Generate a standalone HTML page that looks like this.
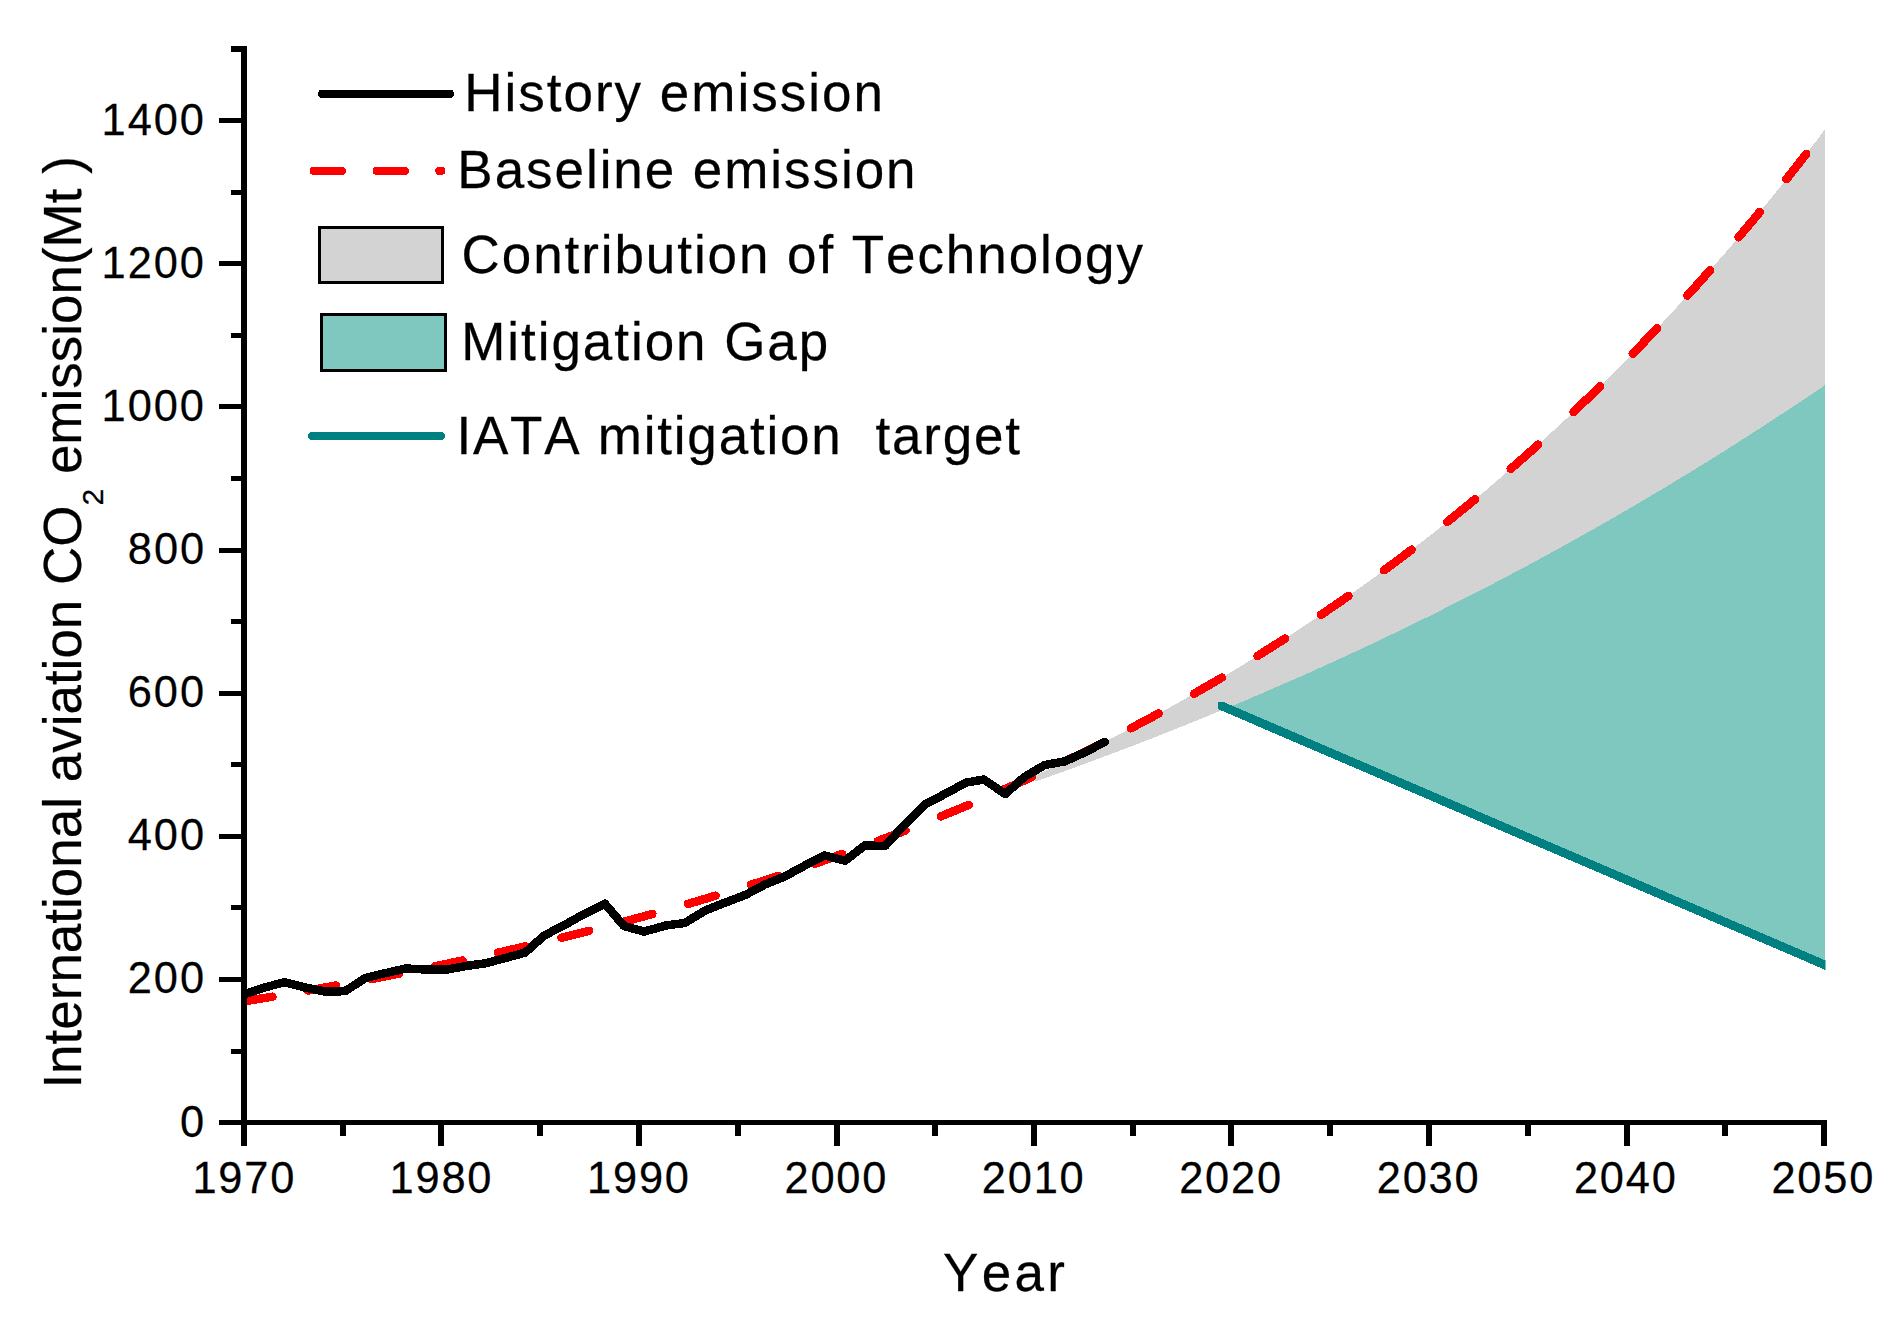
<!DOCTYPE html><html><head><meta charset="utf-8"><title>International aviation CO2 emission</title>
<style>html,body{margin:0;padding:0;background:#fff}svg{display:block}text{font-family:"Liberation Sans",Arial,sans-serif;fill:#000;stroke:#000;stroke-width:0.25px;font-kerning:none;font-variant-ligatures:none}</style></head><body>
<svg width="1895" height="1322" viewBox="0 0 1895 1322" shape-rendering="crispEdges">
<rect width="1895" height="1322" fill="#fff"/>
<defs><clipPath id="plot"><rect x="244" y="40" width="1584" height="1082"/></clipPath><clipPath id="iclip"><rect x="1218" y="702" width="607.5" height="400"/></clipPath></defs>
<g clip-path="url(#plot)">
<polygon fill="#d3d3d3" points="1034.5,775.8 1038.4,773.9 1042.4,772.1 1046.3,770.2 1050.3,768.4 1054.2,766.5 1058.2,764.6 1062.1,762.8 1066.1,760.9 1070.1,758.9 1074.0,757.0 1078.0,755.1 1081.9,753.2 1085.9,751.2 1089.8,749.3 1093.8,747.3 1097.7,745.3 1101.7,743.3 1105.6,741.3 1109.6,739.3 1113.5,737.3 1117.5,735.3 1121.4,733.2 1125.4,731.2 1129.3,729.1 1133.3,727.0 1137.2,724.9 1141.2,722.8 1145.1,720.7 1149.1,718.6 1153.1,716.5 1157.0,714.3 1161.0,712.2 1164.9,710.0 1168.9,707.9 1172.8,705.7 1176.8,703.5 1180.7,701.3 1184.7,699.0 1188.6,696.8 1192.6,694.6 1196.5,692.3 1200.5,690.0 1204.4,687.7 1208.4,685.5 1212.3,683.2 1216.3,680.8 1220.2,678.5 1224.2,676.2 1228.1,673.8 1232.1,671.4 1236.1,669.1 1240.0,666.7 1244.0,664.3 1247.9,661.8 1251.9,659.4 1255.8,657.0 1259.8,654.5 1263.7,652.1 1267.7,649.6 1271.6,647.1 1275.6,644.6 1279.5,642.0 1283.5,639.5 1287.4,637.0 1291.4,634.4 1295.3,631.8 1299.3,629.2 1303.2,626.6 1307.2,624.0 1311.1,621.4 1315.1,618.8 1319.1,616.1 1323.0,613.4 1327.0,610.7 1330.9,608.0 1334.9,605.3 1338.8,602.6 1342.8,599.9 1346.7,597.1 1350.7,594.3 1354.6,591.5 1358.6,588.7 1362.5,585.9 1366.5,583.1 1370.4,580.2 1374.4,577.4 1378.3,574.5 1382.3,571.6 1386.2,568.7 1390.2,565.8 1394.1,562.9 1398.1,559.9 1402.1,556.9 1406.0,554.0 1410.0,551.0 1413.9,547.9 1417.9,544.9 1421.8,541.9 1425.8,538.8 1429.7,535.7 1433.7,532.6 1437.6,529.5 1441.6,526.4 1445.5,523.2 1449.5,520.1 1453.4,516.9 1457.4,513.7 1461.3,510.5 1465.3,507.3 1469.2,504.0 1473.2,500.8 1477.1,497.5 1481.1,494.2 1485.1,490.9 1489.0,487.5 1493.0,484.2 1496.9,480.8 1500.9,477.4 1504.8,474.0 1508.8,470.6 1512.7,467.2 1516.7,463.7 1520.6,460.2 1524.6,456.7 1528.5,453.2 1532.5,449.7 1536.4,446.2 1540.4,442.6 1544.3,439.0 1548.3,435.4 1552.2,431.8 1556.2,428.1 1560.1,424.5 1564.1,420.8 1568.1,417.1 1572.0,413.4 1576.0,409.6 1579.9,405.9 1583.9,402.1 1587.8,398.3 1591.8,394.5 1595.7,390.6 1599.7,386.8 1603.6,382.9 1607.6,379.0 1611.5,375.0 1615.5,371.1 1619.4,367.1 1623.4,363.2 1627.3,359.2 1631.3,355.1 1635.2,351.1 1639.2,347.0 1643.1,342.9 1647.1,338.8 1651.1,334.7 1655.0,330.5 1659.0,326.3 1662.9,322.1 1666.9,317.9 1670.8,313.7 1674.8,309.4 1678.7,305.1 1682.7,300.8 1686.6,296.5 1690.6,292.1 1694.5,287.7 1698.5,283.3 1702.4,278.9 1706.4,274.4 1710.3,270.0 1714.3,265.5 1718.2,260.9 1722.2,256.4 1726.2,251.8 1730.1,247.2 1734.1,242.6 1738.0,238.0 1742.0,233.3 1745.9,228.6 1749.9,223.9 1753.8,219.2 1757.8,214.4 1761.7,209.6 1765.7,204.8 1769.6,200.0 1773.6,195.1 1777.5,190.2 1781.5,185.3 1785.4,180.3 1789.4,175.4 1793.3,170.4 1797.3,165.3 1801.2,160.3 1805.2,155.2 1809.2,150.1 1813.1,145.0 1817.1,139.8 1821.0,134.6 1825.0,129.4 1825.0,965.0 1226.8,708.2 1226.8,708.2 1225.9,708.6 1224.9,709.0 1223.9,709.4 1223.0,709.8 1222.0,710.2 1221.1,710.6 1220.1,711.0 1219.1,711.4 1218.2,711.8 1217.2,712.2 1216.2,712.6 1215.3,713.0 1214.3,713.3 1213.4,713.7 1212.4,714.1 1211.4,714.5 1210.5,714.9 1209.5,715.3 1208.5,715.7 1207.6,716.1 1206.6,716.5 1205.7,716.9 1204.7,717.3 1203.7,717.7 1202.8,718.1 1201.8,718.5 1200.9,718.9 1199.9,719.2 1198.9,719.6 1198.0,720.0 1197.0,720.4 1196.0,720.8 1195.1,721.2 1194.1,721.6 1193.2,722.0 1192.2,722.4 1191.2,722.8 1190.3,723.1 1189.3,723.5 1188.4,723.9 1187.4,724.3 1186.4,724.7 1185.5,725.1 1184.5,725.5 1183.5,725.8 1182.6,726.2 1181.6,726.6 1180.7,727.0 1179.7,727.4 1178.7,727.8 1177.8,728.2 1176.8,728.5 1175.9,728.9 1174.9,729.3 1173.9,729.7 1173.0,730.1 1172.0,730.5 1171.0,730.8 1170.1,731.2 1169.1,731.6 1168.2,732.0 1167.2,732.4 1166.2,732.7 1165.3,733.1 1164.3,733.5 1163.3,733.9 1162.4,734.3 1161.4,734.6 1160.5,735.0 1159.5,735.4 1158.5,735.8 1157.6,736.1 1156.6,736.5 1155.7,736.9 1154.7,737.3 1153.7,737.6 1152.8,738.0 1151.8,738.4 1150.8,738.8 1149.9,739.1 1148.9,739.5 1148.0,739.9 1147.0,740.3 1146.0,740.6 1145.1,741.0 1144.1,741.4 1143.2,741.8 1142.2,742.1 1141.2,742.5 1140.3,742.9 1139.3,743.2 1138.3,743.6 1137.4,744.0 1136.4,744.4 1135.5,744.7 1134.5,745.1 1133.5,745.5 1132.6,745.8 1131.6,746.2 1130.7,746.6 1129.7,746.9 1128.7,747.3 1127.8,747.7 1126.8,748.0 1125.8,748.4 1124.9,748.8 1123.9,749.1 1123.0,749.5 1122.0,749.9 1121.0,750.2 1120.1,750.6 1119.1,751.0 1118.1,751.3 1117.2,751.7 1116.2,752.0 1115.3,752.4 1114.3,752.8 1113.3,753.1 1112.4,753.5 1111.4,753.9 1110.5,754.2 1109.5,754.6 1108.5,754.9 1107.6,755.3 1106.6,755.7 1105.6,756.0 1104.7,756.4 1103.7,756.7 1102.8,757.1 1101.8,757.5 1100.8,757.8 1099.9,758.2 1098.9,758.5 1098.0,758.9 1097.0,759.3 1096.0,759.6 1095.1,760.0 1094.1,760.3 1093.1,760.7 1092.2,761.0 1091.2,761.4 1090.3,761.7 1089.3,762.1 1088.3,762.5 1087.4,762.8 1086.4,763.2 1085.5,763.5 1084.5,763.9 1083.5,764.2 1082.6,764.6 1081.6,764.9 1080.6,765.3 1079.7,765.6 1078.7,766.0 1077.8,766.3 1076.8,766.7 1075.8,767.0 1074.9,767.4 1073.9,767.7 1072.9,768.1 1072.0,768.4 1071.0,768.8 1070.1,769.1 1069.1,769.5 1068.1,769.8 1067.2,770.2 1066.2,770.5 1065.3,770.9 1064.3,771.2 1063.3,771.6 1062.4,771.9 1061.4,772.3 1060.4,772.6 1059.5,773.0 1058.5,773.3 1057.6,773.6 1056.6,774.0 1055.6,774.3 1054.7,774.7 1053.7,775.0 1052.8,775.4 1051.8,775.7 1050.8,776.0 1049.9,776.4 1048.9,776.7 1047.9,777.1 1047.0,777.4 1046.0,777.8 1045.1,778.1 1044.1,778.4 1043.1,778.8 1042.2,779.1 1041.2,779.5 1040.3,779.8 1039.3,780.1 1038.3,780.5 1037.4,780.8 1036.4,781.2 1035.4,781.5 1034.5,781.8"/>
<polygon fill="#7ec8c0" points="1226.8,708.2 1229.8,706.9 1232.8,705.7 1235.8,704.4 1238.8,703.2 1241.8,701.9 1244.8,700.6 1247.8,699.4 1250.7,698.1 1253.7,696.8 1256.7,695.6 1259.7,694.3 1262.7,693.0 1265.7,691.7 1268.7,690.4 1271.7,689.1 1274.7,687.8 1277.7,686.5 1280.7,685.2 1283.6,683.9 1286.6,682.6 1289.6,681.3 1292.6,680.0 1295.6,678.7 1298.6,677.4 1301.6,676.0 1304.6,674.7 1307.6,673.4 1310.6,672.0 1313.6,670.7 1316.5,669.3 1319.5,668.0 1322.5,666.6 1325.5,665.3 1328.5,663.9 1331.5,662.6 1334.5,661.2 1337.5,659.8 1340.5,658.5 1343.5,657.1 1346.4,655.7 1349.4,654.3 1352.4,653.0 1355.4,651.6 1358.4,650.2 1361.4,648.8 1364.4,647.4 1367.4,646.0 1370.4,644.6 1373.4,643.2 1376.4,641.7 1379.3,640.3 1382.3,638.9 1385.3,637.5 1388.3,636.1 1391.3,634.6 1394.3,633.2 1397.3,631.8 1400.3,630.3 1403.3,628.9 1406.3,627.4 1409.3,626.0 1412.2,624.5 1415.2,623.1 1418.2,621.6 1421.2,620.1 1424.2,618.6 1427.2,617.2 1430.2,615.7 1433.2,614.2 1436.2,612.7 1439.2,611.2 1442.2,609.7 1445.1,608.2 1448.1,606.7 1451.1,605.2 1454.1,603.7 1457.1,602.2 1460.1,600.7 1463.1,599.2 1466.1,597.7 1469.1,596.1 1472.1,594.6 1475.0,593.1 1478.0,591.5 1481.0,590.0 1484.0,588.4 1487.0,586.9 1490.0,585.3 1493.0,583.8 1496.0,582.2 1499.0,580.6 1502.0,579.1 1505.0,577.5 1507.9,575.9 1510.9,574.3 1513.9,572.8 1516.9,571.2 1519.9,569.6 1522.9,568.0 1525.9,566.4 1528.9,564.8 1531.9,563.2 1534.9,561.6 1537.9,559.9 1540.8,558.3 1543.8,556.7 1546.8,555.1 1549.8,553.4 1552.8,551.8 1555.8,550.2 1558.8,548.5 1561.8,546.9 1564.8,545.2 1567.8,543.6 1570.8,541.9 1573.7,540.2 1576.7,538.6 1579.7,536.9 1582.7,535.2 1585.7,533.5 1588.7,531.8 1591.7,530.2 1594.7,528.5 1597.7,526.8 1600.7,525.1 1603.6,523.4 1606.6,521.6 1609.6,519.9 1612.6,518.2 1615.6,516.5 1618.6,514.8 1621.6,513.0 1624.6,511.3 1627.6,509.6 1630.6,507.8 1633.6,506.1 1636.5,504.3 1639.5,502.6 1642.5,500.8 1645.5,499.0 1648.5,497.3 1651.5,495.5 1654.5,493.7 1657.5,491.9 1660.5,490.2 1663.5,488.4 1666.5,486.6 1669.4,484.8 1672.4,483.0 1675.4,481.2 1678.4,479.3 1681.4,477.5 1684.4,475.7 1687.4,473.9 1690.4,472.1 1693.4,470.2 1696.4,468.4 1699.4,466.5 1702.3,464.7 1705.3,462.9 1708.3,461.0 1711.3,459.1 1714.3,457.3 1717.3,455.4 1720.3,453.5 1723.3,451.7 1726.3,449.8 1729.3,447.9 1732.2,446.0 1735.2,444.1 1738.2,442.2 1741.2,440.3 1744.2,438.4 1747.2,436.5 1750.2,434.6 1753.2,432.6 1756.2,430.7 1759.2,428.8 1762.2,426.8 1765.1,424.9 1768.1,423.0 1771.1,421.0 1774.1,419.1 1777.1,417.1 1780.1,415.1 1783.1,413.2 1786.1,411.2 1789.1,409.2 1792.1,407.2 1795.1,405.3 1798.0,403.3 1801.0,401.3 1804.0,399.3 1807.0,397.3 1810.0,395.3 1813.0,393.2 1816.0,391.2 1819.0,389.2 1822.0,387.2 1825.0,385.1 1825.0,965.0"/>
<path d="M244.8 1001.2 L246.4 1001.0 L248.0 1000.7 L249.5 1000.5 L251.1 1000.2 L252.7 999.9 L254.3 999.7 L255.9 999.4 L257.4 999.2 L259.0 998.9 L260.6 998.6 L262.2 998.4 L263.8 998.1 L265.3 997.9 L266.9 997.6 L268.5 997.3 L270.1 997.1 L271.7 996.8 L272.5 996.7 M308.2 990.5 L309.8 990.3 L311.4 990.0 L313.0 989.7 L314.6 989.4 L316.1 989.2 L317.7 988.9 L319.3 988.6 L320.9 988.3 L322.5 988.0 L324.0 987.7 L325.6 987.5 L327.2 987.2 L328.8 986.9 L330.4 986.6 L331.9 986.3 L333.5 986.0 L335.1 985.7 L335.9 985.6 M371.5 979.0 L373.0 978.7 L374.6 978.4 L376.2 978.1 L377.8 977.8 L379.4 977.5 L381.0 977.2 L382.5 976.8 L384.1 976.5 L385.7 976.2 L387.3 975.9 L388.9 975.6 L390.4 975.3 L392.0 975.0 L393.6 974.7 L395.2 974.4 L396.8 974.1 L398.3 973.7 L399.1 973.6 M434.7 966.4 L436.3 966.1 L437.9 965.7 L439.4 965.4 L441.0 965.1 L442.6 964.7 L444.2 964.4 L445.8 964.1 L447.4 963.7 L448.9 963.4 L450.5 963.1 L452.1 962.7 L453.7 962.4 L455.3 962.1 L456.8 961.7 L458.4 961.4 L460.0 961.0 L461.6 960.7 L462.4 960.5 M497.9 952.7 L499.5 952.3 L501.1 952.0 L502.7 951.6 L504.3 951.2 L505.8 950.9 L507.4 950.5 L509.0 950.2 L510.6 949.8 L512.2 949.4 L513.8 949.1 L515.3 948.7 L516.9 948.3 L518.5 948.0 L520.1 947.6 L521.7 947.2 L523.2 946.9 L524.8 946.5 L525.6 946.3 M561.4 937.7 L563.0 937.3 L564.5 937.0 L566.1 936.6 L567.7 936.2 L569.3 935.8 L570.9 935.4 L572.4 935.0 L574.0 934.6 L575.6 934.2 L577.2 933.8 L578.8 933.4 L580.3 933.0 L581.9 932.6 L583.5 932.2 L585.1 931.8 L586.7 931.4 L588.3 931.0 L589.0 930.8 M624.6 921.5 L626.2 921.1 L627.8 920.7 L629.4 920.2 L630.9 919.8 L632.5 919.4 L634.1 919.0 L635.7 918.5 L637.3 918.1 L638.8 917.7 L640.4 917.2 L642.0 916.8 L643.6 916.4 L645.2 915.9 L646.7 915.5 L648.3 915.1 L649.9 914.6 L651.5 914.2 L652.3 914.0 M687.9 903.9 L689.4 903.4 L691.0 903.0 L692.6 902.5 L694.2 902.0 L695.8 901.6 L697.3 901.1 L698.9 900.6 L700.5 900.2 L702.1 899.7 L703.7 899.2 L705.2 898.8 L706.8 898.3 L708.4 897.8 L710.0 897.3 L711.6 896.9 L713.1 896.4 L714.7 895.9 L715.5 895.7 M751.1 884.7 L752.7 884.2 L754.3 883.7 L755.8 883.2 L757.4 882.7 L759.0 882.2 L760.6 881.7 L762.2 881.2 L763.7 880.7 L765.3 880.1 L766.9 879.6 L768.5 879.1 L770.1 878.6 L771.6 878.1 L773.2 877.6 L774.8 877.1 L776.4 876.5 L778.0 876.0 L778.8 875.8 M814.5 863.7 L816.1 863.2 L817.7 862.7 L819.3 862.1 L820.9 861.6 L822.4 861.0 L824.0 860.5 L825.6 859.9 L827.2 859.4 L828.8 858.8 L830.3 858.2 L831.9 857.7 L833.5 857.1 L835.1 856.6 L836.7 856.0 L838.2 855.4 L839.8 854.9 L841.4 854.3 L842.2 854.0 M877.8 841.0 L879.3 840.4 L880.9 839.8 L882.5 839.2 L884.1 838.6 L885.7 838.1 L887.3 837.5 L888.8 836.9 L890.4 836.2 L892.0 835.6 L893.6 835.0 L895.2 834.4 L896.7 833.8 L898.3 833.2 L899.9 832.6 L901.5 832.0 L903.1 831.4 L904.6 830.8 L905.4 830.5 M941.0 816.3 L942.6 815.7 L944.2 815.0 L945.7 814.4 L947.3 813.7 L948.9 813.1 L950.5 812.4 L952.1 811.8 L953.7 811.1 L955.2 810.5 L956.8 809.8 L958.4 809.1 L960.0 808.5 L961.6 807.8 L963.1 807.2 L964.7 806.5 L966.3 805.8 L967.9 805.2 L968.7 804.8 M1004.2 789.4 L1005.8 788.7 L1007.4 788.0 L1009.0 787.3 L1010.6 786.6 L1012.1 785.9 L1013.7 785.2 L1015.3 784.5 L1016.9 783.8 L1018.5 783.1 L1020.1 782.4 L1021.6 781.6 L1023.2 780.9 L1024.8 780.2 L1026.4 779.5 L1028.0 778.8 L1029.5 778.0 L1031.1 777.3 L1031.9 776.9 M1067.7 760.1 L1069.3 759.3 L1070.8 758.6 L1072.4 757.8 L1074.0 757.0 L1075.6 756.3 L1077.2 755.5 L1078.7 754.7 L1080.3 753.9 L1081.9 753.2 L1083.5 752.4 L1085.1 751.6 L1086.7 750.8 L1088.2 750.0 L1089.8 749.3 L1091.4 748.5 L1093.0 747.7 L1094.6 746.9 L1095.3 746.5 M1130.9 728.3 L1132.5 727.4 L1134.1 726.6 L1135.7 725.8 L1137.2 724.9 L1138.8 724.1 L1140.4 723.3 L1142.0 722.4 L1143.6 721.6 L1145.1 720.7 L1146.7 719.9 L1148.3 719.0 L1149.9 718.2 L1151.5 717.3 L1153.1 716.5 L1154.6 715.6 L1156.2 714.8 L1157.8 713.9 L1158.6 713.5 M1194.2 693.7 L1195.7 692.8 L1197.3 691.8 L1198.9 690.9 L1200.5 690.0 L1202.1 689.1 L1203.6 688.2 L1205.2 687.3 L1206.8 686.4 L1208.4 685.5 L1210.0 684.5 L1211.5 683.6 L1213.1 682.7 L1214.7 681.8 L1216.3 680.8 L1217.9 679.9 L1219.5 679.0 L1221.0 678.0 L1221.8 677.6 M1257.6 655.9 L1259.2 654.9 L1260.8 653.9 L1262.3 652.9 L1263.9 651.9 L1265.5 650.9 L1267.1 649.9 L1268.7 648.9 L1270.2 648.0 L1271.8 647.0 L1273.4 646.0 L1275.0 644.9 L1276.6 643.9 L1278.1 642.9 L1279.7 641.9 L1281.3 640.9 L1282.9 639.9 L1284.5 638.9 L1285.1 638.5 M1320.8 614.9 L1322.4 613.8 L1324.0 612.8 L1325.6 611.7 L1327.2 610.6 L1328.7 609.5 L1330.3 608.4 L1331.9 607.4 L1333.5 606.3 L1335.1 605.2 L1336.6 604.1 L1338.2 603.0 L1339.8 601.9 L1341.4 600.8 L1343.0 599.7 L1344.5 598.6 L1346.1 597.5 L1347.7 596.4 L1348.5 595.9 M1384.1 570.3 L1385.7 569.2 L1387.2 568.0 L1388.8 566.8 L1390.4 565.6 L1392.0 564.5 L1393.6 563.3 L1395.1 562.1 L1396.7 560.9 L1398.3 559.8 L1399.9 558.6 L1401.5 557.4 L1403.0 556.2 L1404.6 555.0 L1406.2 553.8 L1407.8 552.6 L1409.4 551.4 L1410.9 550.2 L1411.7 549.6 M1447.3 521.8 L1448.9 520.6 L1450.5 519.3 L1452.1 518.0 L1453.6 516.7 L1455.2 515.5 L1456.8 514.2 L1458.4 512.9 L1460.0 511.6 L1461.5 510.3 L1463.1 509.0 L1464.7 507.8 L1466.3 506.5 L1467.9 505.2 L1469.4 503.9 L1471.0 502.6 L1472.6 501.3 L1474.2 499.9 L1475.0 499.3 M1510.7 468.9 L1512.3 467.5 L1513.9 466.1 L1515.5 464.8 L1517.1 463.4 L1518.6 462.0 L1520.2 460.6 L1521.8 459.2 L1523.4 457.8 L1525.0 456.4 L1526.6 455.0 L1528.1 453.6 L1529.7 452.2 L1531.3 450.8 L1532.9 449.4 L1534.5 447.9 L1536.0 446.5 L1537.6 445.1 L1538.2 444.6 M1573.6 411.9 L1575.2 410.4 L1576.7 408.9 L1578.3 407.4 L1579.9 405.9 L1581.5 404.3 L1583.1 402.8 L1584.7 401.3 L1586.2 399.8 L1587.8 398.3 L1589.4 396.8 L1591.0 395.2 L1592.6 393.7 L1594.1 392.2 L1595.7 390.6 L1597.3 389.1 L1598.9 387.5 L1600.1 386.4 M1632.7 353.7 L1634.3 352.1 L1635.8 350.5 L1637.4 348.8 L1639.0 347.2 L1640.6 345.6 L1642.2 343.9 L1643.7 342.3 L1645.3 340.7 L1646.9 339.0 L1648.5 337.4 L1650.1 335.7 L1651.6 334.0 L1653.2 332.4 L1654.8 330.7 L1656.4 329.1 L1657.2 328.2 M1687.4 295.6 L1689.0 293.8 L1690.6 292.1 L1692.2 290.4 L1693.7 288.6 L1695.3 286.8 L1696.9 285.1 L1698.5 283.3 L1700.1 281.6 L1701.6 279.8 L1703.2 278.0 L1704.8 276.2 L1706.4 274.4 L1708.0 272.7 L1709.5 270.9 L1710.1 270.2 M1738.6 237.3 L1740.2 235.4 L1741.8 233.5 L1743.3 231.7 L1744.9 229.8 L1746.5 227.9 L1748.1 226.0 L1749.7 224.1 L1751.2 222.3 L1752.8 220.4 L1754.4 218.5 L1756.0 216.5 L1757.6 214.6 L1759.2 212.7 L1759.7 212.0 M1786.4 179.1 L1788.0 177.1 L1789.6 175.1 L1791.2 173.1 L1792.7 171.1 L1794.3 169.1 L1795.9 167.1 L1797.5 165.1 L1799.1 163.1 L1800.7 161.0 L1802.2 159.0 L1803.8 157.0 L1805.4 155.0 L1806.2 153.9 " fill="none" stroke="#f00" stroke-width="8.5" stroke-linecap="round" stroke-linejoin="round"/>
<line x1="1208.5" y1="700.3" x2="1835.0" y2="969.3" stroke="#008080" stroke-width="8.7" clip-path="url(#iclip)"/>
<polyline fill="none" stroke="#000" stroke-width="8.5" stroke-linecap="round" stroke-linejoin="round" points="244.0,994.5 264.5,987.5 284.5,982.2 305.0,987.5 326.3,991.8 345.2,991.1 365.5,977.9 386.0,973.0 406.0,968.5 426.0,969.5 446.6,969.6 466.0,966.0 485.8,963.2 505.5,958.0 525.1,952.6 544.1,935.6 564.5,925.0 584.6,913.8 604.9,903.7 623.9,926.0 644.1,931.6 665.7,925.5 684.7,923.0 705.2,910.5 725.5,902.5 745.7,894.8 764.7,884.6 783.7,877.0 804.0,866.0 824.2,855.5 845.3,860.6 864.8,845.4 885.0,846.1 905.3,823.9 924.3,804.9 945.8,793.5 966.1,782.6 983.8,779.5 1005.3,794.0 1024.3,777.0 1044.6,765.1 1064.9,761.3 1085.1,752.2 1104.6,742.0"/>
</g>
<g fill="#000">
<rect x="241" y="46" width="6" height="1100"/>
<rect x="219" y="1120" width="1608" height="5"/>
<rect x="231" y="1049" width="11" height="5"/>
<rect x="219" y="977" width="23" height="5"/>
<rect x="231" y="905" width="11" height="5"/>
<rect x="219" y="834" width="23" height="5"/>
<rect x="231" y="762" width="11" height="5"/>
<rect x="219" y="691" width="23" height="5"/>
<rect x="231" y="619" width="11" height="5"/>
<rect x="219" y="548" width="23" height="5"/>
<rect x="231" y="476" width="11" height="5"/>
<rect x="219" y="404" width="23" height="5"/>
<rect x="231" y="333" width="11" height="5"/>
<rect x="219" y="261" width="23" height="5"/>
<rect x="231" y="190" width="11" height="5"/>
<rect x="219" y="118" width="23" height="5"/>
<rect x="231" y="46" width="11" height="6"/>
<rect x="340" y="1122" width="6" height="13.5"/>
<rect x="438" y="1122" width="6" height="24"/>
<rect x="537" y="1122" width="6" height="13.5"/>
<rect x="636" y="1122" width="6" height="24"/>
<rect x="735" y="1122" width="6" height="13.5"/>
<rect x="834" y="1122" width="6" height="24"/>
<rect x="932" y="1122" width="6" height="13.5"/>
<rect x="1031" y="1122" width="6" height="24"/>
<rect x="1130" y="1122" width="6" height="13.5"/>
<rect x="1228" y="1122" width="6" height="24"/>
<rect x="1327" y="1122" width="6" height="13.5"/>
<rect x="1426" y="1122" width="6" height="24"/>
<rect x="1525" y="1122" width="6" height="13.5"/>
<rect x="1624" y="1122" width="6" height="24"/>
<rect x="1722" y="1122" width="6" height="13.5"/>
<rect x="1821" y="1122" width="6" height="24"/>
</g>
<text transform="translate(179.93,1136.60) scale(1,1.041)" font-size="43.4" letter-spacing="1.97" text-anchor="start" >0</text>
<text transform="translate(127.66,993.46) scale(1,1.041)" font-size="43.4" letter-spacing="2.00" text-anchor="start" >200</text>
<text transform="translate(127.72,850.32) scale(1,1.041)" font-size="43.4" letter-spacing="1.97" text-anchor="start" >400</text>
<text transform="translate(127.66,707.18) scale(1,1.041)" font-size="43.4" letter-spacing="2.00" text-anchor="start" >600</text>
<text transform="translate(127.84,564.04) scale(1,1.041)" font-size="43.4" letter-spacing="1.91" text-anchor="start" >800</text>
<text transform="translate(101.55,420.90) scale(1,1.041)" font-size="43.4" letter-spacing="1.97" text-anchor="start" >1000</text>
<text transform="translate(101.55,277.76) scale(1,1.041)" font-size="43.4" letter-spacing="1.97" text-anchor="start" >1200</text>
<text transform="translate(101.55,134.62) scale(1,1.041)" font-size="43.4" letter-spacing="1.97" text-anchor="start" >1400</text>
<text transform="translate(192.38,1192.60) scale(1,1.041)" font-size="43.4" letter-spacing="1.79" text-anchor="start" >1970</text>
<text transform="translate(389.61,1192.60) scale(1,1.041)" font-size="43.4" letter-spacing="1.79" text-anchor="start" >1980</text>
<text transform="translate(587.04,1192.60) scale(1,1.041)" font-size="43.4" letter-spacing="1.79" text-anchor="start" >1990</text>
<text transform="translate(784.44,1192.60) scale(1,1.041)" font-size="43.4" letter-spacing="1.81" text-anchor="start" >2000</text>
<text transform="translate(981.87,1192.60) scale(1,1.041)" font-size="43.4" letter-spacing="1.77" text-anchor="start" >2010</text>
<text transform="translate(1179.13,1192.60) scale(1,1.041)" font-size="43.4" letter-spacing="1.84" text-anchor="start" >2020</text>
<text transform="translate(1376.77,1192.60) scale(1,1.041)" font-size="43.4" letter-spacing="1.79" text-anchor="start" >2030</text>
<text transform="translate(1573.92,1192.60) scale(1,1.041)" font-size="43.4" letter-spacing="1.79" text-anchor="start" >2040</text>
<text transform="translate(1771.47,1192.60) scale(1,1.041)" font-size="43.4" letter-spacing="1.77" text-anchor="start" >2050</text>
<text transform="translate(943.05,1290.50) scale(1,1.012)" font-size="53.0" letter-spacing="3.29" text-anchor="start" >Year</text>
<text transform="translate(81,1088.60) rotate(-90) scale(1,1.012)" font-size="53.0" letter-spacing="0.00">International aviation CO<tspan font-size="30" dy="21.8">2</tspan><tspan dy="-21.8"> emission(Mt )</tspan></text>
<line x1="322" y1="93.8" x2="450" y2="93.8" stroke="#000" stroke-width="8" stroke-linecap="round"/>
<path d="M313.7 170.9H342 M376.5 170.9H405 M439.3 170.9H441.4" stroke="#f00" stroke-width="8" stroke-linecap="round" fill="none"/>
<rect x="319.5" y="227.4" width="123.2" height="55.2" fill="#d3d3d3" stroke="#000" stroke-width="2.6"/>
<rect x="321.5" y="314.7" width="124.4" height="55.6" fill="#7ec8c0" stroke="#000" stroke-width="2.8"/>
<line x1="312" y1="436" x2="441" y2="436" stroke="#008080" stroke-width="8" stroke-linecap="round"/>
<text transform="translate(464.27,110.80) scale(1,1.012)" font-size="53.0" letter-spacing="2.00" text-anchor="start" >History emission</text>
<text transform="translate(457.36,187.50) scale(1,1.012)" font-size="53.0" letter-spacing="1.95" text-anchor="start" >Baseline emission</text>
<text transform="translate(461.58,273.10) scale(1,1.012)" font-size="53.0" letter-spacing="1.93" text-anchor="start" >Contribution of Technology</text>
<text transform="translate(461.27,360.00) scale(1,1.012)" font-size="53.0" letter-spacing="1.95" text-anchor="start" >Mitigation Gap</text>
<text transform="translate(456.40,453.80) scale(1,1.012)" font-size="53.0" letter-spacing="1.79" text-anchor="start" xml:space="preserve">IATA mitigation  target</text>
</svg></body></html>
